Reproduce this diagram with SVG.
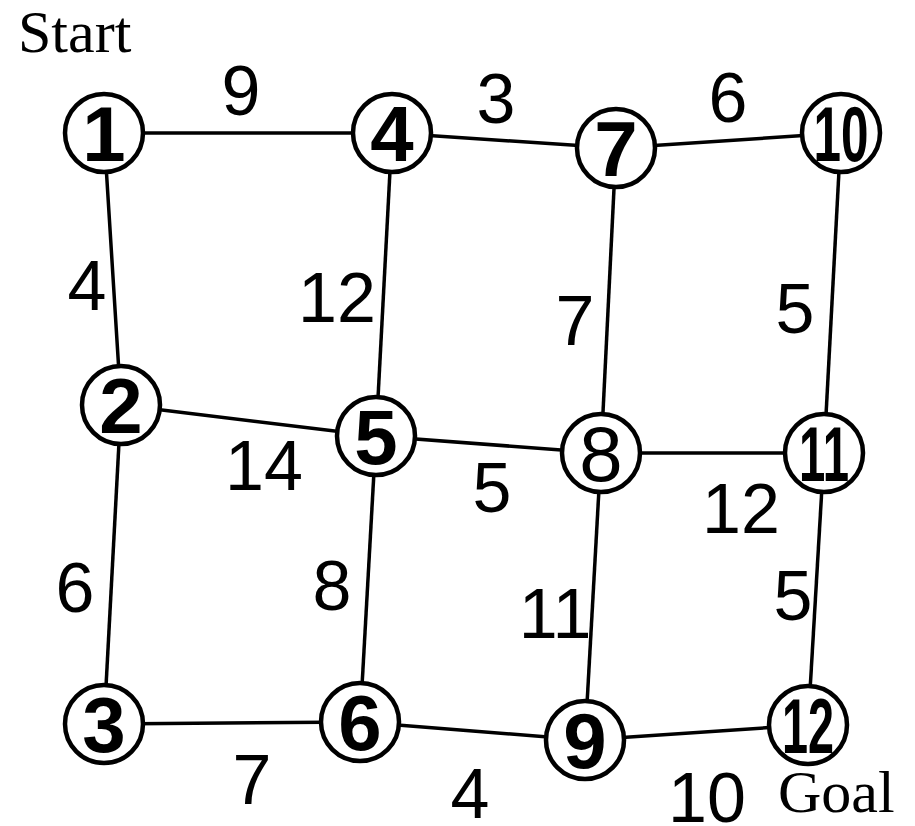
<svg xmlns="http://www.w3.org/2000/svg" width="915" height="826" viewBox="0 0 915 826">
<style>
.edge{stroke:#000;stroke-width:3.5;fill:none}
.node circle{fill:#fff;stroke:#000;stroke-width:4.5}
.node text{font-family:"Liberation Sans",Arial,sans-serif;font-weight:bold;font-size:78px;text-anchor:middle}
.lbl{font-family:"Liberation Sans",Arial,sans-serif;font-size:70px;text-anchor:middle}
.ser{font-family:"Liberation Serif","Times New Roman",serif;font-size:60px}
</style>
<rect width="915" height="826" fill="#fff"/>
<g id="connectors">
<line class="edge" x1="104" y1="133" x2="392" y2="133"/>
<line class="edge" x1="392" y1="133" x2="616" y2="148"/>
<line class="edge" x1="616" y1="148" x2="841" y2="133"/>
<line class="edge" x1="121" y1="405" x2="376" y2="436"/>
<line class="edge" x1="376" y1="436" x2="601" y2="453"/>
<line class="edge" x1="601" y1="453" x2="824" y2="453"/>
<line class="edge" x1="104" y1="724" x2="360" y2="722"/>
<line class="edge" x1="360" y1="722" x2="585" y2="740"/>
<line class="edge" x1="585" y1="740" x2="808" y2="725"/>
<line class="edge" x1="104" y1="133" x2="121" y2="405"/>
<line class="edge" x1="121" y1="405" x2="104" y2="724"/>
<line class="edge" x1="392" y1="133" x2="376" y2="436"/>
<line class="edge" x1="376" y1="436" x2="360" y2="722"/>
<line class="edge" x1="616" y1="148" x2="601" y2="453"/>
<line class="edge" x1="601" y1="453" x2="585" y2="740"/>
<line class="edge" x1="841" y1="133" x2="824" y2="453"/>
<line class="edge" x1="824" y1="453" x2="808" y2="725"/>
</g>
<g id="edge-labels">
<text class="lbl" x="241" y="115">9</text>
<text class="lbl" x="496" y="123">3</text>
<text class="lbl" x="728" y="122">6</text>
<text class="lbl" x="87" y="310">4</text>
<text class="lbl" x="337" y="322">12</text>
<text class="lbl" x="575" y="345">7</text>
<text class="lbl" x="795" y="333">5</text>
<text class="lbl" x="264" y="490">14</text>
<text class="lbl" x="492" y="512">5</text>
<text class="lbl" x="741" y="533">12</text>
<text class="lbl" x="75" y="612">6</text>
<text class="lbl" x="332" y="610">8</text>
<text class="lbl" x="555" y="638">11</text>
<text class="lbl" x="793" y="620">5</text>
<text class="lbl" x="252" y="804">7</text>
<text class="lbl" x="470" y="818">4</text>
<text class="lbl" x="707" y="822">10</text>
</g>
<g id="n1" class="node"><circle cx="104" cy="133" r="39"/><text x="104" y="161">1</text></g>
<g id="n4" class="node"><circle cx="392" cy="133" r="39"/><text x="392" y="161">4</text></g>
<g id="n7" class="node"><circle cx="616" cy="148" r="39"/><text x="616" y="176">7</text></g>
<g id="n10" class="node"><circle cx="841" cy="133" r="39"/><text x="841" y="161" textLength="55" lengthAdjust="spacingAndGlyphs">10</text></g>
<g id="n2" class="node"><circle cx="121" cy="405" r="39"/><text x="121" y="433">2</text></g>
<g id="n5" class="node"><circle cx="376" cy="436" r="39"/><text x="376" y="464">5</text></g>
<g id="n8" class="node"><circle cx="601" cy="453" r="39"/><text x="601" y="481" style="font-weight:normal">8</text></g>
<g id="n11" class="node"><circle cx="824" cy="453" r="39"/><text x="824" y="481" textLength="50" lengthAdjust="spacingAndGlyphs">11</text></g>
<g id="n3" class="node"><circle cx="104" cy="724" r="39"/><text x="104" y="752">3</text></g>
<g id="n6" class="node"><circle cx="360" cy="722" r="39"/><text x="360" y="750">6</text></g>
<g id="n9" class="node"><circle cx="585" cy="740" r="39"/><text x="585" y="768">9</text></g>
<g id="n12" class="node"><circle cx="808" cy="725" r="39"/><text x="808" y="753" textLength="52" lengthAdjust="spacingAndGlyphs">12</text></g>
<text class="ser" x="18" y="52">Start</text>
<text class="ser" x="778" y="812">Goal</text>
</svg>
